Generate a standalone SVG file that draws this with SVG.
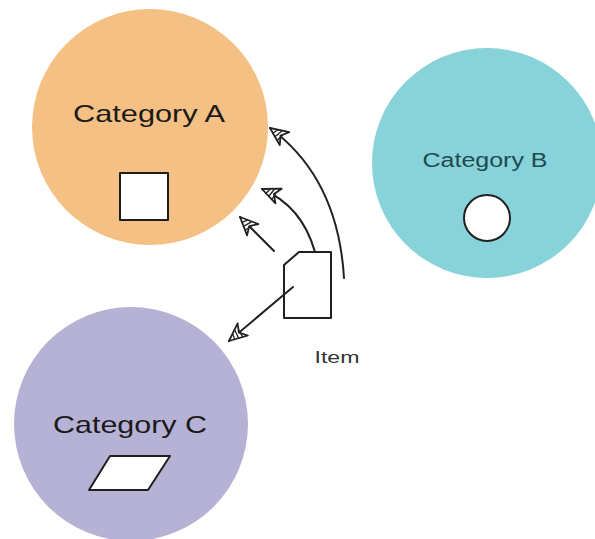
<svg xmlns="http://www.w3.org/2000/svg" width="595" height="539" viewBox="0 0 595 539">
  <style>
    .label { font-family: "Liberation Sans", "DejaVu Sans", sans-serif; text-anchor: middle; }
    .shape { fill: #ffffff; stroke: #1f1f1f; stroke-width: 2; stroke-linejoin: round; }
    .conn { fill: none; stroke: #222222; stroke-width: 2; stroke-linecap: round; marker-end: url(#head); }
  </style>
  <defs>
    <!-- hollow sketch arrowhead with hatching -->
    <marker id="head" markerUnits="userSpaceOnUse" markerWidth="24" markerHeight="22" viewBox="-21 -11 23 22" refX="0" refY="0" orient="auto">
      <path d="M0,0 L-18,-8 L-13,0 L-18,8 Z" fill="#ffffff" stroke="#222222" stroke-width="1.8" stroke-linejoin="round"/>
      <path d="M-5,-3 L-7.5,3 M-9,-4.6 L-11.5,4.6 M-13,-6.2 L-14.5,2" stroke="#222222" stroke-width="1.3" fill="none"/>
    </marker>
  </defs>

  <rect width="595" height="539" fill="#ffffff"/>

  <g id="category-a">
    <circle cx="150" cy="127" r="118" fill="#f5c083"/>
    <text class="label" x="149" y="122" font-size="24" fill="#1a1a1a" textLength="152" lengthAdjust="spacingAndGlyphs">Category A</text>
    <rect class="shape" x="120" y="173" width="48" height="47"/>
  </g>

  <g id="category-b">
    <circle cx="487" cy="163" r="115" fill="#88d2da"/>
    <text class="label" x="485" y="167" font-size="20" fill="#1e4a50" textLength="125" lengthAdjust="spacingAndGlyphs">Category B</text>
    <circle class="shape" cx="487" cy="218" r="23"/>
  </g>

  <g id="category-c">
    <circle cx="131" cy="424" r="117" fill="#b6b2d5"/>
    <text class="label" x="130" y="433" font-size="24" fill="#1a1a1a" textLength="154" lengthAdjust="spacingAndGlyphs">Category C</text>
    <path class="shape" d="M110,456 L170,456 L148,490 L89,490 Z"/>
  </g>

  <g id="item">
    <path class="shape" d="M299,252 L331,252 L331,318 L284,318 L284,265 Z"/>
    <text class="label" x="337" y="363" font-size="16" fill="#333333" textLength="45" lengthAdjust="spacingAndGlyphs">Item</text>
  </g>

  <g id="connectors">
    <path class="conn" d="M344,278 Q338,178 270,128"/>
    <path class="conn" d="M315,252 Q302,206 262,189"/>
    <path class="conn" d="M274,251 L240,217"/>
    <path class="conn" d="M293,287 L229,341"/>
  </g>
</svg>
